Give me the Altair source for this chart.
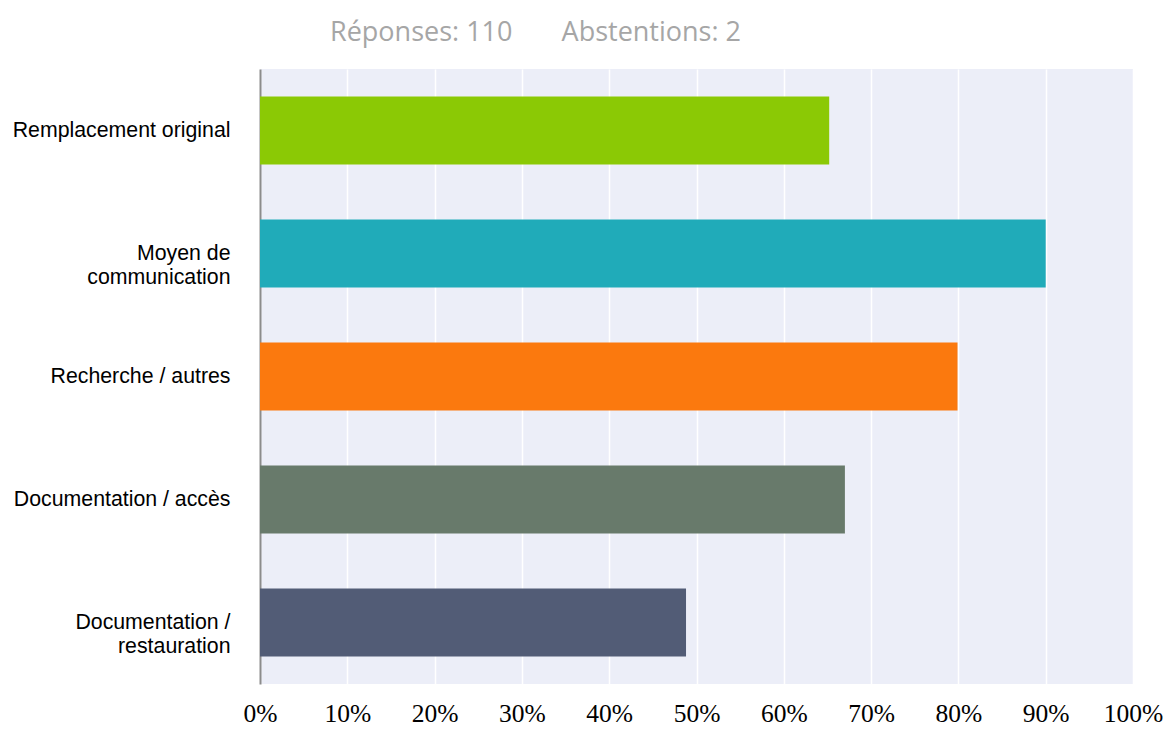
import altair as alt
import pandas as pd

categories = [
    "Remplacement original",
    "Moyen de\ncommunication",
    "Recherche / autres",
    "Documentation / accès",
    "Documentation /\nrestauration",
]
values = [65.2, 90.0, 79.9, 67.0, 48.8]
colors = ["#8bc905", "#20abb9", "#fb790e", "#687a6b", "#525c76"]
tick_values = [0, 10, 20, 30, 40, 50, 60, 70, 80, 90, 100]
title_text = "Réponses: 110" + "\u00a0" * 7 + "Abstentions: 2"

df = pd.DataFrame({"cat": categories, "val": values})

chart = (
    alt.Chart(df)
    .mark_bar()
    .encode(
        y=alt.Y(
            "cat:N",
            sort=categories,
            scale=alt.Scale(paddingInner=0.447, paddingOuter=0.2235),
            axis=alt.Axis(
                title=None,
                labelExpr="split(datum.label, '\\n')",
                labelFont="Liberation Sans",
                labelFontSize=21.3,
                labelColor="#000000",
                labelLineHeight=24,
                labelPadding=30,
                ticks=False,
                domain=True,
                domainColor="#8c8c8c",
                domainWidth=2,
                grid=False,
                labelLimit=300,
            ),
        ),
        x=alt.X(
            "val:Q",
            scale=alt.Scale(domain=[0, 100], nice=False, zero=True),
            axis=alt.Axis(
                title=None,
                values=tick_values,
                labelExpr="datum.value + '%'",
                labelFont="Liberation Serif",
                labelFontSize=25.5,
                labelColor="#000000",
                labelPadding=17,
                ticks=False,
                domain=False,
                grid=True,
                gridColor="#ffffff",
                gridWidth=1.5,
                labelOverlap=False,
                labelFlush=False,
            ),
        ),
        color=alt.Color(
            "cat:N",
            scale=alt.Scale(domain=categories, range=colors),
            legend=None,
        ),
    )
    .properties(
        width=873,
        height=615,
        autosize=alt.AutoSizeParams(type="none"),
        padding={"left": 252, "top": 61, "right": 30, "bottom": 45},
        title=alt.TitleParams(
            title_text,
            anchor="start",
            frame="group",
            dx=70,
            offset=1,
            baseline="alphabetic",
            font="Open Sans",
            fontSize=27,
            fontWeight="normal",
            color="#a6a6a6",
        ),
    )
    .configure_view(fill="#eceef8", stroke=None)
)

chart.save("out.html", embed_options={"renderer": "svg", "actions": False})
